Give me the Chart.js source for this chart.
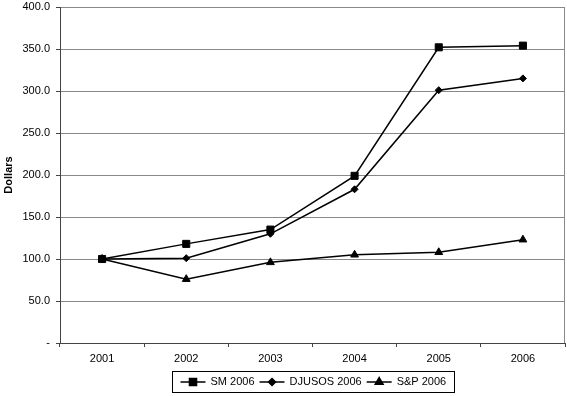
<!DOCTYPE html>
<html>
<head>
<meta charset="utf-8">
<title>Dollars</title>
<script src="https://cdn.jsdelivr.net/npm/chart.js@4.4.1/dist/chart.umd.min.js"></script>
<style>
  html, body { margin: 0; padding: 0; background: #fff; }
  #wrap { width: 567px; height: 396px; }
</style>
</head>
<body>
<div id="wrap"><canvas id="chart" width="567" height="396"></canvas></div>
<script>
const YEARS = ['2001', '2002', '2003', '2004', '2005', '2006'];
const SM_2006 = [100, 118, 135, 199, 352, 354];
const DJUSOS_2006 = [100, 101, 130, 183, 301, 315];
const SP_2006 = [100, 76, 96, 105, 108, 123];
const SERIES_LABELS = ['SM 2006', 'DJUSOS 2006', 'S&P 2006'];

Chart.defaults.font.family = '"Liberation Sans", Arial, sans-serif';
Chart.defaults.font.size = 11;
Chart.defaults.color = '#000';

// legend drawn by hand: line + marker + label inside a box
const boxLegend = {
    id: 'boxLegend',
    afterDraw(chart) {
        const ctx = chart.ctx;
        const area = chart.chartArea;
        const sets = chart.data.datasets;
        const segLen = 25, gap = 5, itemGap = 5, padX = 8;
        ctx.save();
        ctx.font = '11px "Liberation Sans", Arial, sans-serif';
        let total = padX * 2;
        const widths = sets.map(ds => ctx.measureText(ds.label).width);
        widths.forEach((w, i) => { total += segLen + gap + w + (i < sets.length - 1 ? itemGap : 0); });
        const cx = (area.left + area.right) / 2;
        const top = 371, h = 21;
        let x = Math.round(cx - total / 2) + 0.5;
        ctx.strokeStyle = '#000';
        ctx.lineWidth = 1;
        ctx.strokeRect(x, top + 0.5, Math.round(total), h);
        const y = top + h / 2 + 0.5;
        x += padX;
        sets.forEach((ds, i) => {
            ctx.beginPath();
            ctx.lineWidth = 1.5;
            ctx.moveTo(x, y);
            ctx.lineTo(x + segLen, y);
            ctx.stroke();
            Chart.helpers.drawPoint(ctx, {
                pointStyle: ds.pointStyle,
                radius: ds.pointRadius,
                borderWidth: 1
            }, x + segLen / 2, y);
            ctx.fillStyle = '#000';
            ctx.fill();
            ctx.textBaseline = 'middle';
            ctx.fillText(ds.label, x + segLen + gap, y);
            x += segLen + gap + widths[i] + itemGap;
        });
        ctx.restore();
    }
};

// right edge of the plot frame
const plotFrame = {
    id: 'plotFrame',
    beforeDatasetsDraw(chart) {
        const { ctx, chartArea: a } = chart;
        ctx.save();
        ctx.strokeStyle = '#888';
        ctx.lineWidth = 1;
        ctx.beginPath();
        ctx.moveTo(Math.round(a.right) - 0.5, a.top);
        ctx.lineTo(Math.round(a.right) - 0.5, a.bottom);
        ctx.stroke();
        ctx.restore();
    }
};

function lineSet(label, data, style, radius) {
    return {
        label: label,
        data: data,
        borderColor: '#000',
        backgroundColor: '#000',
        borderWidth: 1.5,
        pointStyle: style,
        pointRadius: radius,
        pointHoverRadius: radius,
        pointBackgroundColor: '#000',
        pointBorderColor: '#000',
        pointBorderWidth: 1,
        tension: 0,
        clip: false
    };
}

new Chart(document.getElementById('chart'), {
    type: 'line',
    data: {
        labels: YEARS,
        datasets: [
            lineSet(SERIES_LABELS[0], SM_2006, 'rect', 5),
            lineSet(SERIES_LABELS[1], DJUSOS_2006, 'rectRot', 3.5),
            lineSet(SERIES_LABELS[2], SP_2006, 'triangle', 4.5)
        ]
    },
    options: {
        responsive: false,
        devicePixelRatio: 1,
        animation: false,
        layout: { autoPadding: false, padding: { top: 7, right: 2, bottom: 30, left: 0 } },
        plugins: {
            legend: { display: false },
            tooltip: { enabled: false }
        },
        scales: {
            x: {
                offset: true,
                grid: { offset: true, drawOnChartArea: false, tickLength: 4, color: '#444' },
                border: { color: '#444', width: 1 },
                ticks: { padding: 5 },
                afterFit(scale) {
                    scale.height = 23;
                    scale.paddingLeft = 0;
                    scale.paddingRight = 0;
                }
            },
            y: {
                min: 0,
                max: 400,
                ticks: {
                    stepSize: 50,
                    padding: 6,
                    callback: v => v === 0 ? '-' : v.toFixed(1)
                },
                grid: { color: '#888', tickColor: '#444', tickLength: 4 },
                border: { color: '#444', width: 1 },
                title: {
                    display: true,
                    text: 'Dollars',
                    font: { weight: 'bold', size: 11 },
                    padding: { top: 2, bottom: 0 }
                },
                afterFit(scale) {
                    scale.width = 60;
                    scale.paddingTop = 0;
                    scale.paddingBottom = 0;
                }
            }
        }
    },
    plugins: [plotFrame, boxLegend]
});
</script>
</body>
</html>
